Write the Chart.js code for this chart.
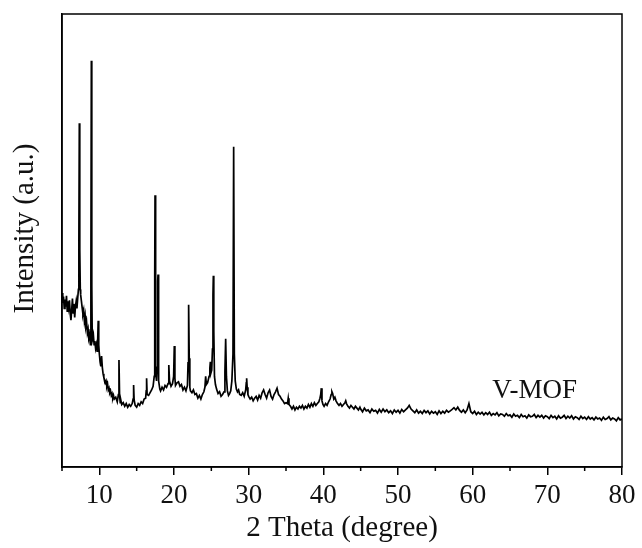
<!DOCTYPE html>
<html>
<head>
<meta charset="utf-8">
<script src="https://cdn.jsdelivr.net/npm/chart.js@4.4.0/dist/chart.umd.min.js"></script>
<style>
  html, body { margin: 0; padding: 0; background: #fff; }
  #wrap { width: 642px; height: 548px; position: relative; }
</style>
</head>
<body>
<div id="wrap"><canvas id="xrd"></canvas></div>
<script>
// XRD pattern, intensity in arbitrary units (0 - 1000)
const twoTheta = [
  5.0, 5.1, 5.2, 5.3, 5.4, 5.5, 5.6, 5.7, 5.8, 5.9,
  6.0, 6.1, 6.2, 6.3, 6.4, 6.5, 6.6, 6.7, 6.8, 6.9,
  7.0, 7.1, 7.2, 7.26, 7.32, 7.38, 7.45, 7.5, 7.6, 7.7, 7.8, 7.9,
  8.0, 8.1, 8.2, 8.3, 8.4, 8.5, 8.6, 8.7, 8.8, 8.87, 8.93, 8.99, 9.05,
  9.1, 9.2, 9.3, 9.4, 9.5, 9.6, 9.7, 9.78, 9.85, 9.92, 10.0,
  10.1, 10.2, 10.3, 10.4, 10.5, 10.6, 10.7, 10.8, 10.9,
  11.0, 11.1, 11.2, 11.3, 11.4, 11.5, 11.6, 11.7, 11.8, 11.9,
  12.0, 12.2, 12.4, 12.55, 12.63, 12.71, 12.8, 12.9,
  13.0, 13.2, 13.4, 13.6, 13.8, 14.0, 14.2, 14.4, 14.52, 14.59, 14.66, 14.8,
  15.0, 15.2, 15.4, 15.6, 15.8, 16.0, 16.2, 16.28, 16.33, 16.4, 16.6, 16.8,
  17.0, 17.2, 17.35, 17.42, 17.46, 17.5, 17.58, 17.66, 17.74, 17.82, 17.86, 17.9, 17.98, 18.1,
  18.2, 18.4, 18.6, 18.8, 19.0, 19.2, 19.28, 19.33, 19.4, 19.6, 19.8,
  19.95, 20.04, 20.12, 20.2, 20.4, 20.6, 20.8, 21.0, 21.2, 21.4, 21.6, 21.8,
  21.88, 21.96, 22.04, 22.12, 22.2, 22.4, 22.6, 22.8, 23.0, 23.2, 23.4, 23.6, 23.8,
  24.0, 24.14, 24.24, 24.34, 24.5, 24.7, 24.8, 24.87, 24.95, 25.05, 25.15, 25.22, 25.27, 25.33, 25.42, 25.55,
  25.7, 25.9, 26.1, 26.3, 26.5, 26.7, 26.82, 26.92, 27.02, 27.15, 27.3, 27.45, 27.6, 27.75, 27.9, 27.99, 28.08, 28.2, 28.35, 28.5, 28.65, 28.8,
  29.0, 29.2, 29.4, 29.6, 29.68, 29.73, 29.8, 29.9, 30.0, 30.2, 30.4, 30.6, 30.8,
  31.0, 31.2, 31.4, 31.6, 31.8, 32.0, 32.2, 32.4, 32.6, 32.8, 33.0, 33.2, 33.4, 33.6, 33.8, 34.0, 34.2, 34.4, 34.6, 34.8,
  35.0, 35.2, 35.3, 35.4, 35.6, 35.8, 36.0, 36.2, 36.4, 36.6, 36.8,
  37.0, 37.2, 37.4, 37.6, 37.8, 38.0, 38.2, 38.4, 38.6, 38.8, 39.0, 39.2, 39.4, 39.55, 39.65, 39.73, 39.82, 39.95,
  40.1, 40.3, 40.5, 40.7, 40.9, 41.05, 41.15, 41.25, 41.4, 41.55, 41.7, 41.9,
  42.1, 42.3, 42.5, 42.7, 42.9, 43.0, 43.1, 43.3, 43.5, 43.7, 43.9,
  44.1, 44.3, 44.5, 44.7, 44.9,
  45.0, 45.25, 45.5, 45.75, 46.0, 46.25, 46.5, 46.75,
  47.0, 47.25, 47.5, 47.75, 48.0, 48.25, 48.5, 48.75,
  49.0, 49.25, 49.5, 49.75, 50.0, 50.25, 50.5, 50.75,
  51.0, 51.25, 51.5, 51.75, 52.0, 52.25, 52.5, 52.75,
  53.0, 53.25, 53.5, 53.75, 54.0, 54.25, 54.5, 54.75,
  55.0, 55.25, 55.5, 55.75, 56.0, 56.25, 56.5, 56.75,
  57.0, 57.25, 57.5, 57.75, 58.0, 58.25, 58.5, 58.75,
  59.0, 59.25, 59.5, 59.75, 60.0, 60.25, 60.5, 60.75,
  61.0, 61.25, 61.5, 61.75, 62.0, 62.25, 62.5, 62.75,
  63.0, 63.25, 63.5, 63.75, 64.0, 64.25, 64.5, 64.75,
  65.0, 65.25, 65.5, 65.75, 66.0, 66.25, 66.5, 66.75,
  67.0, 67.25, 67.5, 67.75, 68.0, 68.25, 68.5, 68.75,
  69.0, 69.25, 69.5, 69.75, 70.0, 70.25, 70.5, 70.75,
  71.0, 71.25, 71.5, 71.75, 72.0, 72.25, 72.5, 72.75,
  73.0, 73.25, 73.5, 73.75, 74.0, 74.25, 74.5, 74.75,
  75.0, 75.25, 75.5, 75.75, 76.0, 76.25, 76.5, 76.75,
  77.0, 77.25, 77.5, 77.75, 78.0, 78.25, 78.5, 78.75,
  79.0, 79.25, 79.5, 79.75, 80.0
];

const intensity = [
  384, 362, 376, 350, 370, 354, 378, 344, 366, 352,
  368, 338, 324, 348, 372, 340, 360, 330, 354, 366,
  350, 372, 392, 500, 759, 480, 392, 380, 366, 352, 338, 346,
  322, 334, 310, 318, 296, 304, 284, 290, 270, 420, 897, 400, 286,
  284, 292, 270, 278, 262, 270, 256, 280, 323, 270, 250,
  232, 222, 245, 220, 206, 198, 192, 186, 190,
  178, 184, 170, 174, 164, 168, 158, 162, 152, 158,
  150, 154, 144, 160, 236, 158, 142, 146,
  138, 142, 134, 140, 132, 138, 134, 140, 150, 181, 148, 136,
  132, 140, 136, 144, 140, 150, 152, 168, 196, 160, 158, 164,
  170, 178, 200, 420, 600, 410, 210, 190, 220, 410, 425, 300, 190, 172,
  168, 176, 170, 180, 176, 184, 204, 225, 190, 178, 184,
  200, 267, 196, 180, 186, 188, 178, 182, 170, 176, 168, 180,
  230, 358, 240, 176, 168, 164, 170, 160, 162, 152, 158, 150, 160,
  166, 176, 200, 182, 186, 200, 218, 232, 208, 214, 260, 380, 422, 300, 200, 182,
  172, 162, 166, 156, 160, 166, 210, 283, 200, 168, 158, 162, 168, 190, 250, 707, 250, 190, 172, 166, 170, 160,
  158, 164, 156, 170, 186, 196, 176, 160, 156, 150, 154, 146, 152,
  156, 148, 158, 152, 164, 170, 160, 152, 164, 170, 156, 150, 160, 166, 174, 160, 156, 150, 146, 140,
  142, 140, 152, 138, 134, 128, 134, 126, 132, 128, 134,
  130, 136, 128, 134, 130, 138, 132, 140, 134, 142, 136, 140, 144, 152, 160, 174, 146, 138,
  134, 140, 136, 144, 150, 160, 166, 162, 150, 154, 146, 140,
  136, 140, 134, 138, 142, 146, 140, 134, 130, 136, 132,
  128, 134, 130, 126, 132,
  128, 122, 130, 124, 126, 120, 128, 123,
  125, 119, 127, 121, 128, 122, 126, 120,
  124, 118, 126, 121, 125, 119, 127, 122,
  126, 130, 136, 128, 124, 120, 126, 119,
  123, 118, 125, 120, 124, 117, 123, 119,
  122, 116, 124, 118, 123, 119, 125, 121,
  124, 127, 131, 126, 132, 125, 121, 126,
  120, 126, 140, 122, 118, 123, 116, 121,
  117, 121, 115, 120, 116, 121, 114, 118,
  115, 120, 113, 117, 116, 112, 118, 113,
  115, 110, 117, 112, 114, 109, 116, 111,
  113, 108, 115, 111, 112, 116, 109, 114,
  110, 114, 108, 113, 111, 107, 114, 109,
  112, 106, 113, 108, 110, 114, 107, 112,
  108, 113, 106, 111, 109, 105, 112, 107,
  110, 105, 111, 106, 109, 104, 110, 106,
  108, 103, 110, 105, 107, 111, 104, 108,
  106, 102, 109, 104, 106
];

const xTicks = [10, 20, 30, 40, 50, 60, 70, 80];
const minorTicks = [5, 15, 25, 35, 45, 55, 65, 75];
const sampleName = 'V-MOF';
const sampleNameAt = [68.3, 152];   // where the sample name sits, in data units

const serif = '"Liberation Serif", "Times New Roman", serif';
const ink = '#111';

// frame, minor ticks, the sample name and the y title
const decorations = {
  id: 'decorations',
  afterDraw(chart) {
    const { ctx, chartArea: area, scales } = chart;
    ctx.save();
    ctx.strokeStyle = '#000';
    ctx.lineWidth = 1.5;
    ctx.strokeRect(area.left, area.top, area.right - area.left, area.bottom - area.top);

    ctx.beginPath();
    minorTicks.forEach(v => {
      const px = scales.x.getPixelForValue(v);
      ctx.moveTo(px, area.bottom);
      ctx.lineTo(px, area.bottom + 4);
    });
    ctx.stroke();

    ctx.fillStyle = ink;
    ctx.font = '27px ' + serif;
    ctx.textAlign = 'center';
    ctx.textBaseline = 'alphabetic';
    ctx.fillText(sampleName, scales.x.getPixelForValue(sampleNameAt[0]), scales.y.getPixelForValue(sampleNameAt[1]));

    ctx.translate(25, (area.top + area.bottom) / 2 - 12);
    ctx.rotate(-Math.PI / 2);
    ctx.font = '29px ' + serif;
    ctx.textBaseline = 'middle';
    ctx.fillText('Intensity (a.u.)', 0, 0);
    ctx.restore();
  }
};

const points = twoTheta.map((t, i) => ({ x: t, y: intensity[i] }));

new Chart(document.getElementById('xrd'), {
  type: 'scatter',
  data: {
    datasets: [{
      label: sampleName,
      data: points,
      showLine: true,
      borderColor: '#000',
      borderWidth: 1.7,
      pointRadius: 0,
      tension: 0
    }]
  },
  options: {
    responsive: true,
    maintainAspectRatio: false,
    animation: false,
    layout: { padding: { top: 14, right: 20, left: 0, bottom: 0 } },
    plugins: {
      legend: { display: false },
      tooltip: { enabled: false }
    },
    scales: {
      x: {
        type: 'linear',
        min: 5,
        max: 80,
        afterBuildTicks: s => { s.ticks = xTicks.map(v => ({ value: v })); },
        afterFit: s => { s.height = 81; },
        ticks: {
          color: ink,
          padding: 5,
          maxRotation: 0,
          font: { family: serif, size: 27 }
        },
        grid: {
          drawOnChartArea: false,
          drawTicks: true,
          tickLength: 8,
          color: '#000',
          lineWidth: 1.5
        },
        border: { display: true, color: '#000', width: 1.5 },
        title: {
          display: true,
          text: '2 Theta (degree)',
          color: ink,
          font: { family: serif, size: 29 },
          padding: { top: 0, bottom: 2 }
        }
      },
      y: {
        min: 0,
        max: 1000,
        afterFit: s => { s.width = 62; },
        ticks: { display: false },
        grid: { display: false },
        border: { display: true, color: '#000', width: 1.5 }
      }
    }
  },
  plugins: [decorations]
});
</script>
</body>
</html>
